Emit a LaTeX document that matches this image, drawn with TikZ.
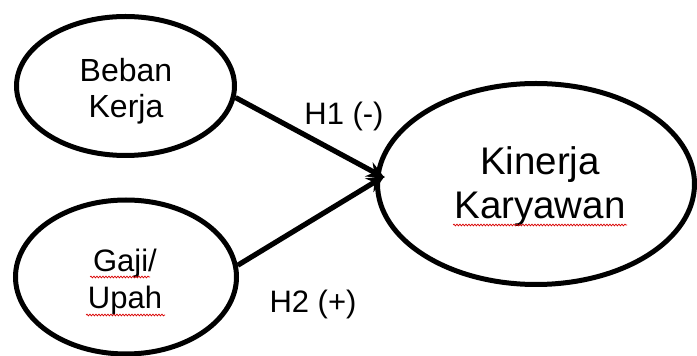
\documentclass[tikz,border=0pt]{standalone}
\usepackage{fontspec}
\setmainfont{Liberation Sans}
\usetikzlibrary{shapes.geometric,arrows.meta,decorations.pathmorphing}
\tikzset{
  oval/.style={draw=black, line width=5pt, ellipse, inner sep=0pt},
  txt/.style={anchor=base, inner sep=0pt, text=black},
  link/.style={line width=5.2pt, -{Stealth[length=18pt,width=16pt,inset=6pt]}, shorten >=-2pt},
  spell/.style={draw=red!85!black, line width=0.7pt, decorate, decoration={snake, amplitude=0.9pt, segment length=3pt}}
}
\begin{document}
\begin{tikzpicture}[x=1pt,y=1pt]
\useasboundingbox (0,0) rectangle (697,356);
% ovals
\node[oval, minimum width=218pt, minimum height=139pt] (e1) at (125.5,270) {};
\node[oval, minimum width=221pt, minimum height=154pt] (e2) at (126,79) {};
\node[oval, minimum width=317pt, minimum height=201pt] (e3) at (536,172) {};
% texts
\node[txt, font=\fontsize{32}{36}\selectfont] (t1a) at (126,274) {Beban};
\node[txt, font=\fontsize{32}{36}\selectfont] (t1b) at (126,238) {Kerja};
\node[txt, font=\fontsize{31}{36}\selectfont] (t2a) at (125,84) {Gaji/};
\node[txt, font=\fontsize{31}{36}\selectfont] (t2b) at (125,47) {Upah};
\node[txt, font=\fontsize{38.5}{44}\selectfont] (t3a) at (540,181) {Kinerja};
\node[txt, font=\fontsize{38.5}{44}\selectfont] (t3b) at (540,137) {Karyawan};
\node[txt, font=\fontsize{31}{36}\selectfont] (h1) at (344,231) {H1 (-)};
\node[txt, font=\fontsize{31}{36}\selectfont] (h2) at (313,43) {H2 (+)};
% spell-check marks
\coordinate (s1a) at (90,79);  \coordinate (s1b) at (150,79);
\coordinate (s2a) at (86,41);  \coordinate (s2b) at (165,41);
\coordinate (s3a) at (453,131); \coordinate (s3b) at (627,131);
\draw[spell] (s1a) -- (s1b);
\draw[spell] (s2a) -- (s2b);
\draw[spell] (s3a) -- (s3b);
% arrows
\coordinate (tip) at (383,179);
\draw[link] (e1.-6) -- (tip);
\draw[link] (e2.6) -- (tip);
\end{tikzpicture}
\end{document}
